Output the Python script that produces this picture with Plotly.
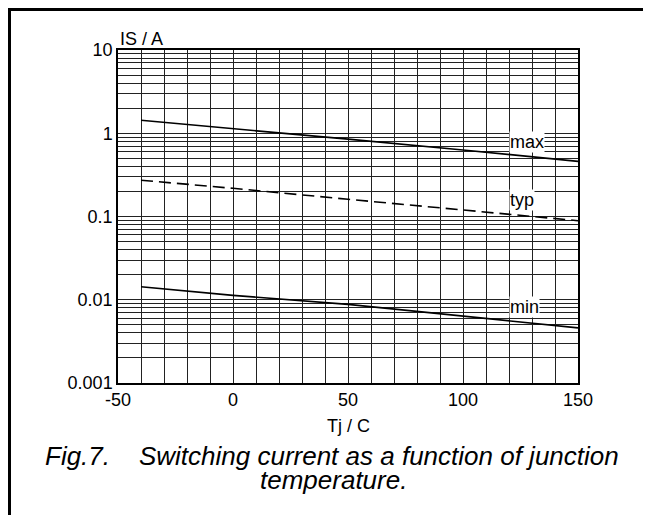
import math
import plotly.graph_objects as go

# Data
tj = [-40, 0, 50, 100, 150]
is_max = [1.43, 1.14, 0.85, 0.63, 0.46]
is_typ = [0.273, 0.218, 0.161, 0.12, 0.089]
is_min = [0.0143, 0.0113, 0.0088, 0.0064, 0.0046]

y_tickvals = [0.001, 0.01, 0.1, 1, 10]
y_ticktext = ["0.001", "0.01", "0.1", "1", "10"]
x_tickvals = [-50, 0, 50, 100, 150]
x_ticktext = ["-50", "0", "50", "100", "150"]

labels = ["max", "typ", "min"]
label_x = [120, 120, 120]
label_y = [0.785, 0.158, 0.0082]

OFF = 8  # page offset of the rendered figure (body margin)
W, H = 651 - 2 * OFF, 523 - 2 * OFF
L, T = 118 - OFF, 50 - OFF
pw, ph = 460, 333
R, B = W - L - pw, H - T - ph

def px2paper_x(px):
    return (px - OFF - L) / pw

def px2paper_y(py):
    return (T + ph - (py - OFF)) / ph

FONT = "Liberation Sans, Arial, sans-serif"

fig = go.Figure()
line_style = dict(color="black", width=1.6)
fig.add_trace(go.Scatter(x=tj, y=is_max, mode="lines", line=line_style, hoverinfo="skip"))
fig.add_trace(go.Scatter(x=tj, y=is_typ, mode="lines",
                         line=dict(color="black", width=1.6, dash="12px,6px"), hoverinfo="skip"))
fig.add_trace(go.Scatter(x=tj, y=is_min, mode="lines", line=line_style, hoverinfo="skip"))

annotations = []
for t, x, y in zip(labels, label_x, label_y):
    annotations.append(dict(x=x, y=math.log10(y), xref="x", yref="y", text=t, showarrow=False,
                            xanchor="left", yanchor="middle", bgcolor="white", borderpad=0,
                            font=dict(family=FONT, size=18, color="black")))

annotations += [
    dict(x=0, y=px2paper_y(39), xref="paper", yref="paper", text="IS / A", showarrow=False,
         xanchor="left", yanchor="middle", font=dict(family=FONT, size=18, color="black")),
    dict(x=0.5, y=px2paper_y(426), xref="paper", yref="paper", text="Tj / C", showarrow=False,
         xanchor="center", yanchor="middle", font=dict(family=FONT, size=18, color="black")),
    dict(x=px2paper_x(332), y=px2paper_y(456), xref="paper", yref="paper",
         text="Fig.7.\u00a0\u00a0\u00a0 Switching current as a function of junction", showarrow=False,
         xanchor="center", yanchor="middle",
         font=dict(family=FONT, size=26, color="black", style="italic")),
    dict(x=px2paper_x(333), y=px2paper_y(480), xref="paper", yref="paper",
         text="temperature.", showarrow=False,
         xanchor="center", yanchor="middle",
         font=dict(family=FONT, size=26, color="black", style="italic")),
]

shapes = [
    # outer frame (left and top edges)
    dict(type="line", xref="paper", yref="paper", x0=px2paper_x(9.5), x1=px2paper_x(9.5),
         y0=px2paper_y(8), y1=px2paper_y(OFF + H), line=dict(color="black", width=3)),
    dict(type="line", xref="paper", yref="paper", x0=px2paper_x(8), x1=px2paper_x(OFF + W),
         y0=px2paper_y(9.5), y1=px2paper_y(9.5), line=dict(color="black", width=3)),
]

fig.update_layout(
    width=W, height=H,
    margin=dict(l=L, r=R, t=T, b=B),
    paper_bgcolor="white", plot_bgcolor="white",
    showlegend=False,
    annotations=annotations,
    shapes=shapes,
    font=dict(family=FONT, size=18, color="black"),
)
fig.update_xaxes(
    range=[-50, 150], tickvals=x_tickvals, ticktext=x_ticktext, ticks="", showgrid=True,
    gridcolor="#222", gridwidth=1, zeroline=False,
    showline=True, linecolor="black", linewidth=1.5, mirror=True,
    tickfont=dict(family=FONT, size=18, color="black"),
    minor=dict(dtick=10, showgrid=True, gridcolor="#222", gridwidth=1, ticks=""),
)
fig.update_yaxes(
    type="log", range=[-3, 1], tickvals=y_tickvals, ticktext=y_ticktext, ticks="",
    showgrid=True, gridcolor="#222", gridwidth=1, zeroline=False,
    showline=True, linecolor="black", linewidth=1.5, mirror=True,
    tickfont=dict(family=FONT, size=18, color="black"),
    minor=dict(dtick="D1", showgrid=True, gridcolor="#222", gridwidth=1, ticks=""),
)

fig.write_html("out.html", config={"displayModeBar": False})
